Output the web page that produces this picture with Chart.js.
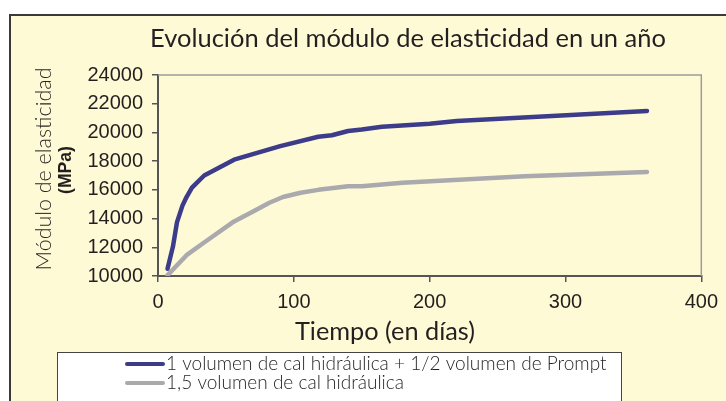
<!DOCTYPE html>
<html>
<head>
<meta charset="utf-8">
<script src="https://cdn.jsdelivr.net/npm/chart.js@4"></script>
<style>
  body { margin: 0; background: #fff; }
  #frame { position: absolute; left: 9px; top: 14px; width: 800px; height: 500px;
           border: 2px solid #3a3a3a; background: #FFFAD6; }
  #grafico { position: absolute; left: 0; top: 0; }
</style>
</head>
<body>
<div id="frame"></div>
<canvas id="grafico" width="726" height="401"></canvas>
<script>
// datos
const titulo = 'Evolución del módulo de elasticidad en un año';
const tituloX = 'Tiempo (en días)';
const tituloY = 'Módulo de elasticidad';
const unidadY = '(MPa)';

const serieA = '1 volumen de cal hidráulica + 1/2 volumen de Prompt';
const diasA = [7, 11, 14, 18, 21, 25, 34, 56, 90, 118, 128, 140, 150, 165, 200, 220, 360];
const moduloA = [10500, 12050, 13750, 14900, 15500, 16150, 17000, 18100, 19050, 19700, 19800, 20100, 20200, 20400, 20600, 20800, 21500];

const serieB = '1,5 volumen de cal hidráulica';
const diasB = [7, 21, 35, 56, 70, 82, 92, 105, 118, 140, 150, 180, 270, 360];
const moduloB = [10050, 11450, 12400, 13800, 14500, 15100, 15500, 15800, 16000, 16250, 16250, 16500, 16950, 17250];

const colorA = '#3C3C8A';
const colorB = '#A9A9AE';
const texto = '#231F20';

function puntos(xs, ys) {
    return xs.map((x, i) => ({ x: x, y: ys[i] }));
}

// ajusta el tamaño de letra para que el texto ocupe un ancho dado
function ajustar(ctx, txt, peso, familia, ancho) {
    ctx.font = peso + ' 20px ' + familia;
    let s = 20 * ancho / ctx.measureText(txt).width;
    ctx.font = peso + ' ' + s.toFixed(2) + 'px ' + familia;
}

const marco = {
    id: 'marco',
    beforeDatasetsDraw(chart) {
        const a = chart.chartArea, ctx = chart.ctx;
        ctx.save();
        ctx.strokeStyle = '#9C9C9C';
        ctx.lineWidth = 1.5;
        ctx.beginPath();
        ctx.moveTo(a.left, a.top);
        ctx.lineTo(a.right, a.top);
        ctx.lineTo(a.right, a.bottom);
        ctx.stroke();
        ctx.restore();
    },
    afterDraw(chart) {
        const ctx = chart.ctx;
        ctx.save();
        ctx.fillStyle = texto;
        ctx.textAlign = 'center';
        ctx.textBaseline = 'alphabetic';

        ajustar(ctx, titulo, '400', 'Lato', 516);
        ctx.fillText(titulo, 408, 47);

        ajustar(ctx, tituloX, '400', 'Lato', 180);
        ctx.fillText(tituloX, 385, 340);

        // titulo del eje y, dos lineas giradas
        ctx.save();
        ctx.translate(44, 169);
        ctx.rotate(-Math.PI / 2);
        ctx.textBaseline = 'middle';
        ajustar(ctx, tituloY, '300', 'Lato', 203);
        ctx.fillText(tituloY, 0, 0);
        ctx.restore();
        ctx.save();
        ctx.translate(66, 170);
        ctx.rotate(-Math.PI / 2);
        ctx.textBaseline = 'middle';
        ajustar(ctx, unidadY, 'bold', '"Liberation Sans"', 48);
        ctx.fillText(unidadY, 0, 0);
        ctx.restore();

        // leyenda
        ctx.fillStyle = '#fff';
        ctx.fillRect(57.5, 352.5, 564, 60);
        ctx.strokeStyle = '#444';
        ctx.lineWidth = 1;
        ctx.strokeRect(57.5, 352.5, 564, 60);
        ctx.fillStyle = texto;
        ajustar(ctx, serieA, '300', 'Lato', 441);
        ctx.textAlign = 'left';
        ctx.textBaseline = 'middle';
        ctx.lineCap = 'round';
        chart.data.datasets.forEach((ds, i) => {
            let y = 364 + i * 19;
            ctx.strokeStyle = ds.borderColor;
            ctx.lineWidth = 4;
            ctx.beginPath();
            ctx.moveTo(127, y);
            ctx.lineTo(163, y);
            ctx.stroke();
            ctx.fillText(ds.label, 166, y);
        });
        ctx.restore();
    }
};

const fuenteTicks = { family: '"Liberation Sans", Arial, sans-serif', size: 20 };

new Chart(document.getElementById('grafico'), {
    type: 'line',
    data: {
        datasets: [{
            label: serieA,
            data: puntos(diasA, moduloA),
            borderColor: colorA,
            backgroundColor: colorA,
            borderWidth: 4.5,
            pointRadius: 0,
            tension: 0,
            borderCapStyle: 'round',
            borderJoinStyle: 'round'
        }, {
            label: serieB,
            data: puntos(diasB, moduloB),
            borderColor: colorB,
            backgroundColor: colorB,
            borderWidth: 4.5,
            pointRadius: 0,
            tension: 0,
            borderCapStyle: 'round',
            borderJoinStyle: 'round'
        }]
    },
    options: {
        responsive: false,
        animation: false,
        layout: { padding: { left: 88, top: 75, right: 18, bottom: 85 } },
        plugins: {
            legend: { display: false },
            tooltip: { enabled: false }
        },
        scales: {
            x: {
                type: 'linear',
                min: 0,
                max: 400,
                ticks: { stepSize: 100, font: fuenteTicks, color: texto, padding: 8, maxRotation: 0,
                         callback: v => String(v) },
                grid: { drawOnChartArea: false, tickLength: 6, color: '#555', lineWidth: 1.5 },
                border: { color: '#555', width: 2 },
                afterFit: function (s) { s.height = 40; }
            },
            y: {
                min: 10000,
                max: 24000,
                ticks: { stepSize: 2000, font: fuenteTicks, color: texto, padding: 9,
                         callback: v => String(v) },
                grid: { drawOnChartArea: false, tickLength: 6, color: '#555', lineWidth: 1.5 },
                border: { color: '#555', width: 2 },
                afterFit: function (s) { s.width = 70; }
            }
        }
    },
    plugins: [marco]
});
</script>
</body>
</html>
